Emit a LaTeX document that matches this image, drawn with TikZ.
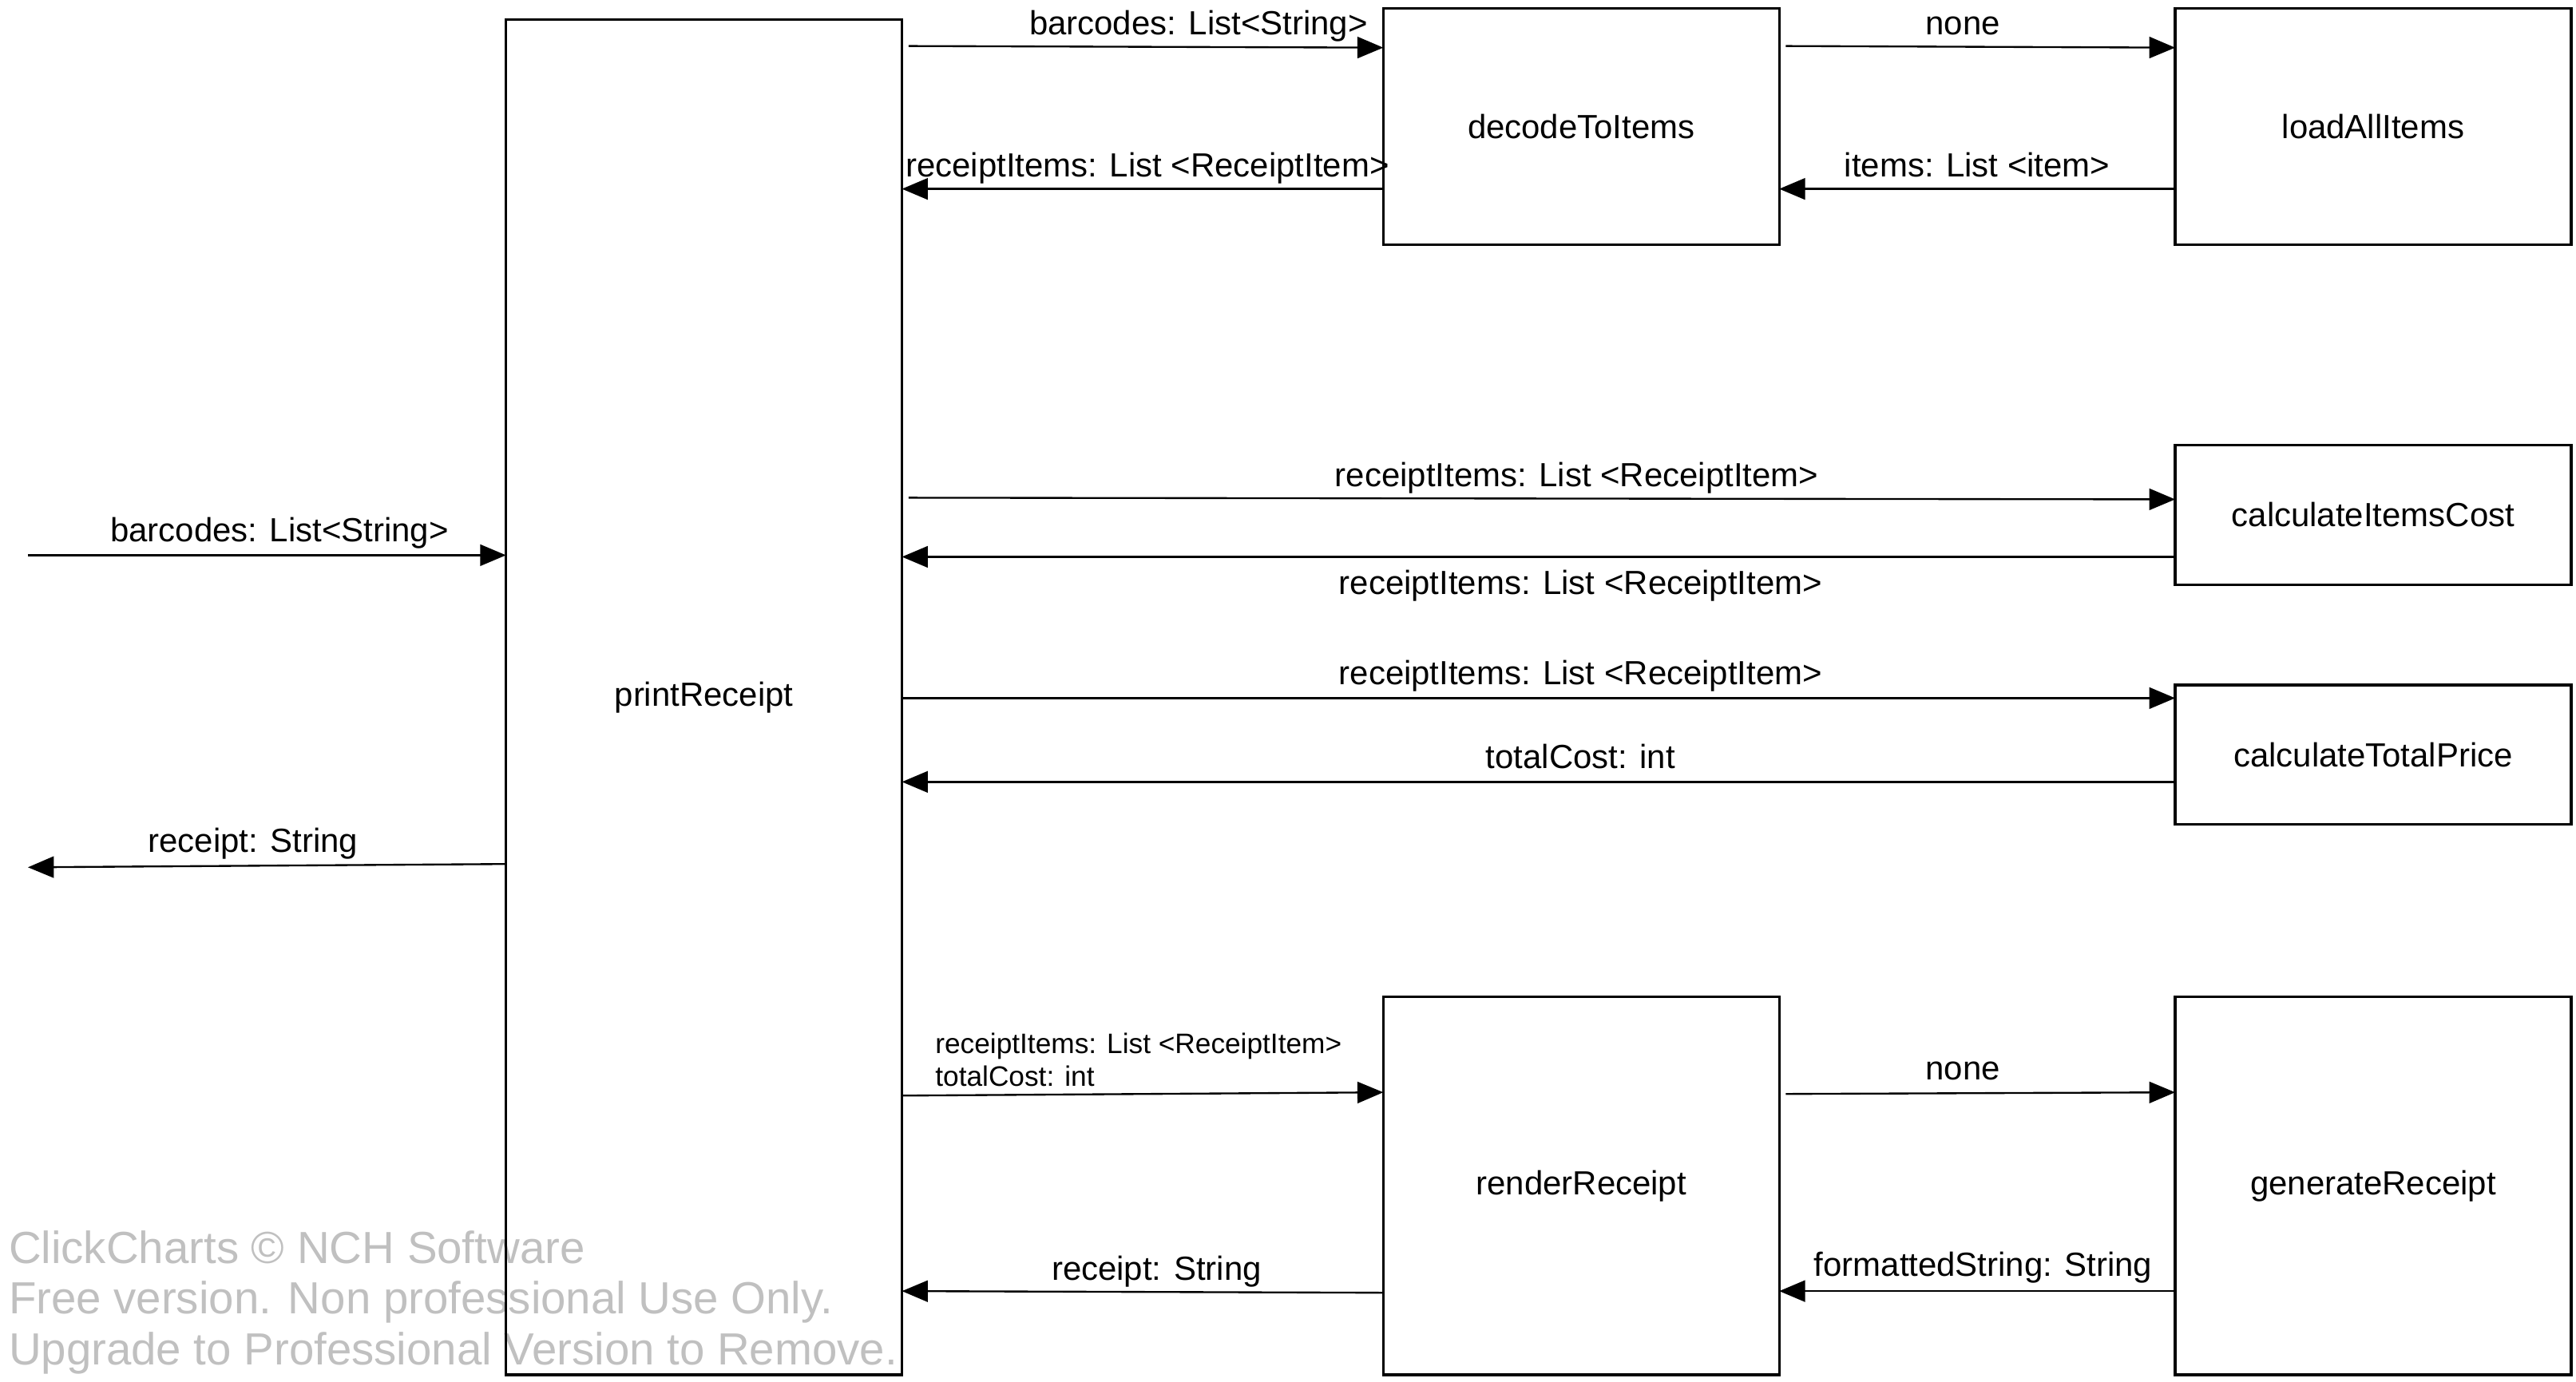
\documentclass[tikz,border=0pt]{standalone}
\usepackage{fontspec}
\setmainfont{Liberation Sans}
\usetikzlibrary{arrows.meta}
\definecolor{wmgray}{RGB}{192,192,192}

\begin{document}
\begin{tikzpicture}[
    x=0.2mm, y=-0.2mm,
    func/.style={draw, line width=0.9pt, inner sep=0pt, outer sep=0pt, minimum width=4.82cm, font={\fontsize{11.6}{14}\selectfont}},
    flow/.style={line width=0.65pt, -{Triangle[length=0.315cm,width=0.26cm]}},
    lbl/.style={inner sep=0pt, text height=10.1pt, text depth=2.4pt, font={\fontsize{11.6}{14}\selectfont}},
    args/.style={inner sep=0pt, align=left, font={\fontsize{9.75}{11.4}\selectfont}},
    trial/.style={inner sep=0pt, anchor=base west, text=wmgray, font={\fontsize{15.6}{18}\selectfont}}]

    \useasboundingbox (0,0) rectangle (1568,841.3);

    \path (5,769) node[trial] (wmA) {ClickCharts © NCH Software}
          (5,800) node[trial] (wmB) {Free version. Non professional Use Only.}
          (5,831) node[trial] (wmC) {Upgrade to Professional Version to Remove.};

    \node[func, minimum height=16.5cm] (pr) at (428.5,424.5) {printReceipt};
    \node[func, minimum height=2.88cm] (dc) at (962.5,77) {decodeToItems};
    \node[func, minimum height=2.88cm] (la) at (1444.5,77) {loadAllItems};
    \node[func, minimum height=1.7cm] (ci) at (1444.5,313.5) {calculateItemsCost};
    \node[func, minimum height=1.7cm] (ct) at (1444.5,459.5) {calculateTotalPrice};
    \node[func, minimum height=4.6cm] (rr) at (962.5,722) {renderReceipt};
    \node[func, minimum height=4.6cm] (gr) at (1444.5,722) {generateReceipt};

    \coordinate (inL)  at (17,338);
    \coordinate (outL) at (17,528);

    \draw[flow] (inL) -- (pr.west |- inL) node[lbl, pos=.526, yshift=.3cm] (inLbl) {barcodes: List<String>};
    \draw[flow] (pr.west |- 0,526) -- (outL) node[lbl, pos=.529, yshift=.3cm] (outLbl) {receipt: String};

    \draw[flow, shorten <=.08cm] (pr.east |- 0,28) -- (dc.west |- 0,29) node[lbl, pos=.616, yshift=.28cm] (prdc) {barcodes: List<String>};
    \draw[flow] (dc.west |- 0,115) -- (pr.east |- 0,115) node[lbl, pos=.49, yshift=.28cm] (dcpr) {receiptItems: List <ReceiptItem>};
    \draw[flow, shorten <=.08cm] (dc.east |- 0,28) -- (la.west |- 0,29) node[lbl, pos=.464, yshift=.28cm] (dcla) {none};
    \draw[flow] (la.west |- 0,115) -- (dc.east |- 0,115) node[lbl, pos=.5, yshift=.28cm] (ladc) {items: List <item>};

    \draw[flow, shorten <=.08cm] (pr.east |- 0,303) -- (ci.west |- 0,304) node[lbl, pos=.53, yshift=.28cm] (prci) {receiptItems: List <ReceiptItem>};
    \draw[flow] (ci.west |- 0,339) -- (pr.east |- 0,339) node[lbl, pos=.467, yshift=-.32cm] (cipr) {receiptItems: List <ReceiptItem>};
    \draw[flow] (pr.east |- 0,425) -- (ct.west |- 0,425) node[lbl, pos=.533, yshift=.3cm] (prct) {receiptItems: List <ReceiptItem>};
    \draw[flow] (ct.west |- 0,476) -- (pr.east |- 0,476) node[lbl, pos=.467, yshift=.3cm] (ctpr) {totalCost: int};

    \draw[flow] (pr.east |- 0,667) -- (rr.west |- 0,665);
    \node[args, anchor=north west] (prrr) at (569,628.5) {receiptItems: List <ReceiptItem>\\totalCost: int};
    \draw[flow, shorten <=.08cm] (rr.east |- 0,666) -- (gr.west |- 0,665) node[lbl, pos=.464, yshift=.3cm] (rrgr) {none};
    \draw[flow] (gr.west |- 0,786) -- (rr.east |- 0,786) node[lbl, pos=.485, yshift=.32cm] (grrr) {formattedString: String};
    \draw[flow] (rr.west |- 0,787) -- (pr.east |- 0,786) node[lbl, pos=.471, yshift=.28cm] (rrpr) {receipt: String};

\end{tikzpicture}
\end{document}
